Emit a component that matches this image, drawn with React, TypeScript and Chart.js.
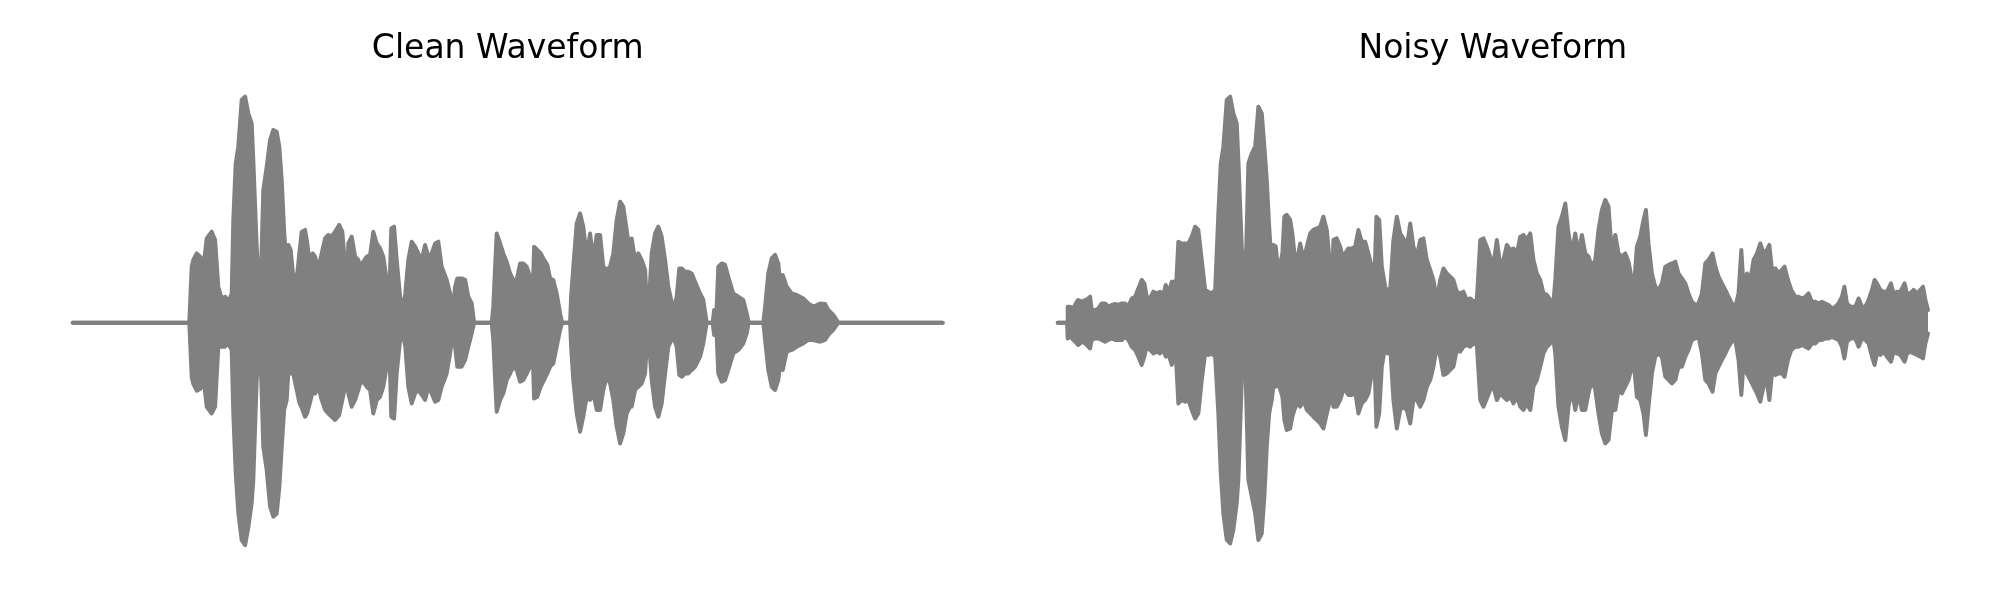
import React, { useEffect, useRef } from "react";
import { Chart, registerables } from "chart.js";

Chart.register(...registerables);

// ---------- Clean waveform envelope (time in s, amplitude normalised) ----------
const timeClean = [
  0, 0.583, 0.595, 0.603, 0.62, 0.637, 0.657, 0.67, 0.695, 0.712,
  0.728, 0.745, 0.762, 0.778, 0.795, 0.803, 0.815, 0.828, 0.845, 0.862,
  0.878, 0.895, 0.903, 0.92, 0.937, 0.953, 0.97, 0.987, 1.003, 1.02,
  1.033, 1.045, 1.057, 1.07, 1.078, 1.09, 1.103, 1.123, 1.133, 1.145,
  1.162, 1.173, 1.183, 1.2, 1.212, 1.228, 1.245, 1.262, 1.278, 1.295,
  1.312, 1.332, 1.348, 1.362, 1.37, 1.378, 1.395, 1.412, 1.428,
  1.437, 1.453, 1.47, 1.487, 1.503, 1.52, 1.537, 1.553, 1.57, 1.583,
  1.593, 1.607, 1.62, 1.637, 1.65, 1.663, 1.678, 1.695, 1.712, 1.728,
  1.745, 1.762, 1.778, 1.795, 1.812, 1.828, 1.845, 1.87, 1.887, 1.9,
  1.912, 1.923, 1.945, 1.962, 1.978, 1.995, 2.007, 2.095, 2.103, 2.112,
  2.12, 2.137, 2.153, 2.17, 2.187, 2.203, 2.22, 2.237, 2.253, 2.27,
  2.287, 2.3, 2.307, 2.323, 2.34, 2.357, 2.373, 2.387, 2.403, 2.42,
  2.437, 2.447, 2.487, 2.492, 2.503, 2.52, 2.537, 2.553, 2.57, 2.587,
  2.603, 2.62, 2.637, 2.653, 2.67, 2.687, 2.703, 2.72, 2.737, 2.753,
  2.77, 2.787, 2.795, 2.812, 2.828, 2.845, 2.862, 2.87, 2.878,
  2.895, 2.912, 2.928, 2.945, 2.962, 2.978, 3.003, 3.02, 3.033, 3.045,
  3.062, 3.078, 3.095, 3.112, 3.137, 3.153, 3.17, 3.2, 3.207, 3.217,
  3.228, 3.245, 3.262, 3.278, 3.303, 3.328, 3.353, 3.37, 3.38, 3.453,
  3.462, 3.478, 3.495, 3.512, 3.528, 3.54, 3.55, 3.57, 3.595, 3.62,
  3.653, 3.678, 3.703, 3.737, 3.762, 3.778, 3.803, 3.828, 4.35,
];

const upperClean = [
  0, 0, 0.224, 0.251, 0.277, 0.264, 0.244, 0.337, 0.364, 0.331,
  0.144, 0.097, 0.104, 0.084, 0.117, 0.411, 0.637, 0.704, 0.891, 0.904,
  0.837, 0.797, 0.651, 0.304, 0.064, 0.531, 0.624, 0.731, 0.771, 0.764,
  0.704, 0.571, 0.371, 0.211, 0.311, 0.291, 0.184, 0.197, 0.277, 0.364,
  0.371, 0.317, 0.251, 0.277, 0.264, 0.217, 0.277, 0.337, 0.351, 0.344,
  0.364, 0.391, 0.364, 0.224, 0.077, 0.317, 0.344, 0.264, 0.251,
  0.224, 0.244, 0.264, 0.271, 0.364, 0.317, 0.297, 0.264, 0.171, 0.104,
  0.377, 0.384, 0.251, 0.104, 0.051, 0.117, 0.251, 0.324, 0.304, 0.277,
  0.251, 0.311, 0.264, 0.277, 0.317, 0.324, 0.224, 0.171, 0.117, 0.051,
  0.144, 0.177, 0.177, 0.171, 0.104, 0.077, 0, 0, 0.064, 0.224,
  0.357, 0.317, 0.277, 0.244, 0.197, 0.171, 0.171, 0.237, 0.237, 0.224,
  0.184, 0.117, 0.304, 0.291, 0.277, 0.251, 0.231, 0.177, 0.171, 0.117,
  0.037, 0, 0, 0.104, 0.224, 0.397, 0.437, 0.384, 0.264, 0.357,
  0.251, 0.351, 0.351, 0.224, 0.211, 0.224, 0.277, 0.411, 0.484, 0.464,
  0.371, 0.277, 0.337, 0.251, 0.277, 0.251, 0.211, 0.091, 0.037,
  0.277, 0.357, 0.384, 0.344, 0.251, 0.144, 0.051, 0.104, 0.217, 0.217,
  0.204, 0.204, 0.197, 0.164, 0.117, 0.091, 0, 0, 0.051, 0,
  0.224, 0.237, 0.231, 0.184, 0.117, 0.104, 0.091, 0.037, 0, 0,
  0.064, 0.197, 0.257, 0.271, 0.237, 0.137, 0.191, 0.144, 0.117, 0.111,
  0.097, 0.077, 0.064, 0.077, 0.075, 0.051, 0.031, 0, 0,
];

const lowerClean = [
  0, 0, -0.216, -0.245, -0.272, -0.265, -0.243, -0.336, -0.363, -0.336,
  -0.096, -0.096, -0.096, -0.083, -0.109, -0.363, -0.6, -0.76, -0.87, -0.89,
  -0.82, -0.72, -0.629, -0.229, -0.069, -0.496, -0.589, -0.736, -0.776, -0.763,
  -0.66, -0.5, -0.35, -0.309, -0.203, -0.203, -0.206, -0.28, -0.32, -0.34,
  -0.376, -0.36, -0.33, -0.275, -0.283, -0.256, -0.309, -0.349, -0.363, -0.376,
  -0.389, -0.37, -0.31, -0.256, -0.069, -0.283, -0.336, -0.309, -0.269,
  -0.243, -0.236, -0.256, -0.269, -0.363, -0.309, -0.296, -0.256, -0.176, -0.096,
  -0.376, -0.383, -0.203, -0.069, -0.043, -0.096, -0.256, -0.323, -0.283, -0.269,
  -0.289, -0.309, -0.256, -0.283, -0.316, -0.309, -0.256, -0.203, -0.123, -0.043,
  -0.096, -0.176, -0.176, -0.149, -0.096, -0.043, 0, 0, -0.069, -0.229,
  -0.356, -0.309, -0.283, -0.229, -0.203, -0.176, -0.189, -0.236, -0.229, -0.203,
  -0.176, -0.123, -0.303, -0.296, -0.256, -0.229, -0.203, -0.176, -0.163, -0.096,
  -0.029, 0, 0, -0.096, -0.229, -0.363, -0.436, -0.376, -0.296, -0.309,
  -0.283, -0.349, -0.349, -0.269, -0.216, -0.243, -0.309, -0.416, -0.483, -0.443,
  -0.363, -0.336, -0.336, -0.269, -0.256, -0.243, -0.203, -0.096, -0.043,
  -0.229, -0.336, -0.376, -0.323, -0.203, -0.096, -0.056, -0.096, -0.209, -0.216,
  -0.203, -0.203, -0.189, -0.176, -0.136, -0.083, 0, 0, -0.049, 0,
  -0.203, -0.236, -0.229, -0.189, -0.123, -0.109, -0.083, -0.043, 0, 0,
  -0.069, -0.189, -0.256, -0.269, -0.229, -0.149, -0.189, -0.116, -0.109, -0.096,
  -0.083, -0.069, -0.069, -0.076, -0.069, -0.049, -0.029, 0, 0,
];

// ---------- Noisy waveform envelope ----------
const timeNoisy = [
  0, 0.047, 0.05, 0.062, 0.078, 0.095, 0.103, 0.12, 0.137, 0.153,
  0.162, 0.17, 0.187, 0.203, 0.22, 0.237, 0.253, 0.27, 0.287, 0.303,
  0.32, 0.337, 0.353, 0.37, 0.387, 0.403, 0.42, 0.433, 0.445, 0.462,
  0.478, 0.495, 0.512, 0.528, 0.54, 0.553, 0.57, 0.583, 0.59, 0.603,
  0.62, 0.637, 0.653, 0.67, 0.687, 0.703, 0.72, 0.737, 0.753, 0.77,
  0.787, 0.803, 0.815, 0.828, 0.845, 0.862, 0.878, 0.895, 0.903, 0.92,
  0.937, 0.953, 0.97, 0.987, 1.003, 1.02, 1.033, 1.045, 1.057, 1.07,
  1.078, 1.09, 1.103, 1.123, 1.133, 1.145, 1.162, 1.173, 1.183, 1.2,
  1.212, 1.228, 1.245, 1.262, 1.278, 1.295, 1.312, 1.328, 1.345, 1.362,
  1.37, 1.378, 1.395, 1.412, 1.428,
  1.437, 1.453, 1.47, 1.487, 1.503, 1.52, 1.537, 1.553, 1.57, 1.583,
  1.593, 1.607, 1.62, 1.637, 1.65, 1.663, 1.678, 1.695, 1.712, 1.728,
  1.745, 1.762, 1.778, 1.795, 1.812, 1.828, 1.845, 1.862, 1.878, 1.895,
  1.912, 1.928, 1.945, 1.962, 1.978, 1.995, 2.012, 2.028, 2.045, 2.062,
  2.078, 2.095, 2.112, 2.128, 2.145, 2.162, 2.178, 2.195, 2.212, 2.228,
  2.245, 2.262, 2.278, 2.295, 2.312, 2.328, 2.345, 2.362, 2.378, 2.395,
  2.412, 2.428, 2.445, 2.462, 2.478, 2.487, 2.503, 2.52, 2.537, 2.553,
  2.57, 2.587, 2.603, 2.62, 2.637, 2.653, 2.67, 2.687, 2.703, 2.72,
  2.737, 2.753, 2.77, 2.787, 2.803, 2.82, 2.837, 2.853, 2.87, 2.878,
  2.895, 2.912, 2.928, 2.94, 2.953, 2.97, 2.987, 3.003, 3.02, 3.037,
  3.053, 3.07, 3.087, 3.103, 3.12, 3.137, 3.153, 3.17, 3.187, 3.203,
  3.22, 3.237, 3.253, 3.273, 3.287, 3.303, 3.32, 3.337, 3.353, 3.37,
  3.387, 3.403, 3.417, 3.428, 3.445, 3.462, 3.478, 3.495, 3.512, 3.528,
  3.545, 3.557, 3.57, 3.587, 3.603, 3.62, 3.633, 3.65, 3.667, 3.687,
  3.703, 3.72, 3.737, 3.753, 3.77, 3.787, 3.803, 3.82, 3.837, 3.853,
  3.87, 3.887, 3.903, 3.92, 3.932, 3.945, 3.962, 3.987, 4.003, 4.02,
  4.037, 4.053, 4.07, 4.083, 4.095, 4.112, 4.128, 4.145, 4.165, 4.178,
  4.195, 4.212, 4.233, 4.245, 4.262, 4.278, 4.295, 4.312, 4.325, 4.337,
  4.35,
];

const upperNoisy = [
  0, 0, 0.064, 0.064, 0.057, 0.084, 0.091, 0.084, 0.091, 0.097,
  0.104, 0.051, 0.051, 0.057, 0.077, 0.077, 0.064, 0.071, 0.075, 0.071,
  0.077, 0.077, 0.064, 0.097, 0.104, 0.137, 0.171, 0.157, 0.104, 0.097,
  0.124, 0.117, 0.124, 0.111, 0.151, 0.117, 0.164, 0.164, 0.117, 0.324,
  0.317, 0.317, 0.317, 0.344, 0.384, 0.371, 0.251, 0.131, 0.124, 0.117,
  0.131, 0.437, 0.637, 0.704, 0.891, 0.904, 0.837, 0.797, 0.651, 0.304,
  0.131, 0.637, 0.677, 0.704, 0.864, 0.837, 0.704, 0.571, 0.384, 0.224,
  0.311, 0.304, 0.197, 0.277, 0.424, 0.431, 0.411, 0.357, 0.277, 0.264,
  0.317, 0.251, 0.304, 0.357, 0.371, 0.377, 0.384, 0.424, 0.371, 0.224,
  0.104, 0.331, 0.337, 0.304, 0.251,
  0.277, 0.297, 0.297, 0.304, 0.371, 0.324, 0.324, 0.277, 0.224, 0.171,
  0.424, 0.411, 0.224, 0.144, 0.117, 0.144, 0.331, 0.424, 0.357, 0.337,
  0.304, 0.397, 0.304, 0.264, 0.331, 0.337, 0.251, 0.211, 0.171, 0.091,
  0.171, 0.217, 0.197, 0.184, 0.171, 0.124, 0.117, 0.124, 0.091, 0.097,
  0.084, 0.091, 0.331, 0.337, 0.304, 0.264, 0.231, 0.331, 0.231, 0.251,
  0.311, 0.291, 0.297, 0.277, 0.344, 0.351, 0.331, 0.357, 0.251, 0.197,
  0.171, 0.117, 0.111, 0.091, 0.084, 0.171, 0.384, 0.424, 0.477, 0.357,
  0.277, 0.357, 0.277, 0.351, 0.277, 0.264, 0.224, 0.251, 0.371, 0.451,
  0.491, 0.464, 0.277, 0.351, 0.277, 0.264, 0.277, 0.244, 0.171, 0.117,
  0.304, 0.344, 0.411, 0.451, 0.317, 0.197, 0.144, 0.131, 0.157, 0.224,
  0.231, 0.237, 0.244, 0.197, 0.177, 0.157, 0.117, 0.084, 0.071, 0.077,
  0.117, 0.237, 0.251, 0.277, 0.224, 0.184, 0.157, 0.131, 0.104, 0.077,
  0.064, 0.117, 0.291, 0.144, 0.197, 0.171, 0.251, 0.277, 0.317, 0.277,
  0.291, 0.311, 0.211, 0.217, 0.197, 0.211, 0.224, 0.171, 0.131, 0.104,
  0.104, 0.097, 0.104, 0.117, 0.084, 0.084, 0.077, 0.084, 0.077, 0.071,
  0.057, 0.064, 0.077, 0.104, 0.144, 0.077, 0.064, 0.064, 0.097, 0.064,
  0.064, 0.091, 0.131, 0.171, 0.157, 0.131, 0.124, 0.124, 0.157, 0.117,
  0.124, 0.124, 0.157, 0.117, 0.117, 0.131, 0.117, 0.131, 0.144, 0.091,
  0.051,
];

const lowerNoisy = [
  0, 0, -0.063, -0.056, -0.069, -0.083, -0.089, -0.076, -0.083, -0.096,
  -0.103, -0.069, -0.063, -0.063, -0.069, -0.076, -0.069, -0.063, -0.069, -0.069,
  -0.069, -0.056, -0.069, -0.096, -0.109, -0.136, -0.169, -0.136, -0.096, -0.109,
  -0.123, -0.116, -0.123, -0.109, -0.136, -0.123, -0.169, -0.136, -0.123, -0.323,
  -0.309, -0.316, -0.309, -0.349, -0.383, -0.363, -0.229, -0.123, -0.129, -0.123,
  -0.136, -0.363, -0.6, -0.763, -0.869, -0.883, -0.829, -0.72, -0.629, -0.229,
  -0.136, -0.629, -0.696, -0.763, -0.869, -0.843, -0.696, -0.496, -0.363, -0.309,
  -0.256, -0.256, -0.243, -0.296, -0.389, -0.429, -0.423, -0.376, -0.349, -0.316,
  -0.336, -0.309, -0.349, -0.363, -0.376, -0.389, -0.403, -0.423, -0.363, -0.309,
  -0.163, -0.336, -0.336, -0.309, -0.269,
  -0.269, -0.289, -0.289, -0.276, -0.363, -0.323, -0.309, -0.283, -0.203, -0.136,
  -0.416, -0.363, -0.176, -0.096, -0.123, -0.109, -0.309, -0.423, -0.349, -0.336,
  -0.349, -0.403, -0.309, -0.309, -0.336, -0.309, -0.256, -0.229, -0.176, -0.096,
  -0.136, -0.209, -0.203, -0.189, -0.176, -0.109, -0.116, -0.096, -0.089, -0.096,
  -0.083, -0.089, -0.309, -0.336, -0.303, -0.269, -0.256, -0.309, -0.283, -0.296,
  -0.309, -0.296, -0.323, -0.296, -0.336, -0.349, -0.323, -0.349, -0.256, -0.229,
  -0.176, -0.123, -0.096, -0.083, -0.069, -0.123, -0.336, -0.416, -0.469, -0.336,
  -0.269, -0.349, -0.283, -0.349, -0.349, -0.283, -0.229, -0.269, -0.363, -0.443,
  -0.483, -0.469, -0.349, -0.349, -0.269, -0.283, -0.256, -0.229, -0.176, -0.149,
  -0.296, -0.309, -0.363, -0.449, -0.336, -0.203, -0.136, -0.123, -0.136, -0.216,
  -0.229, -0.243, -0.229, -0.176, -0.176, -0.136, -0.109, -0.069, -0.063, -0.056,
  -0.123, -0.229, -0.243, -0.276, -0.203, -0.176, -0.149, -0.123, -0.096, -0.076,
  -0.069, -0.149, -0.289, -0.163, -0.203, -0.229, -0.256, -0.283, -0.316, -0.256,
  -0.236, -0.309, -0.203, -0.209, -0.203, -0.203, -0.216, -0.149, -0.109, -0.096,
  -0.096, -0.089, -0.096, -0.103, -0.083, -0.083, -0.069, -0.069, -0.063, -0.063,
  -0.056, -0.063, -0.069, -0.096, -0.143, -0.076, -0.063, -0.063, -0.096, -0.063,
  -0.069, -0.083, -0.136, -0.169, -0.123, -0.129, -0.116, -0.136, -0.156, -0.116,
  -0.123, -0.129, -0.156, -0.123, -0.116, -0.123, -0.129, -0.136, -0.143, -0.083,
  -0.043,
];

const titles = ["Clean Waveform", "Noisy Waveform"];
const WAVE_COLOR = "#808080";

type WaveProps = {
  title: string;
  time: number[];
  upper: number[];
  lower: number[];
  padLeft: number;
  padRight: number;
  left: number;
};

function WaveChart({ title, time, upper, lower, padLeft, padRight, left }: WaveProps) {
  const ref = useRef<HTMLCanvasElement | null>(null);
  useEffect(() => {
    if (!ref.current) return;
    const up = time.map((t, i) => ({ x: t, y: upper[i] }));
    const lo = time.map((t, i) => ({ x: t, y: lower[i] }));
    const common = {
      borderColor: WAVE_COLOR,
      backgroundColor: WAVE_COLOR,
      borderWidth: 4,
      pointRadius: 0,
      tension: 0,
      borderCapStyle: "round" as const,
      borderJoinStyle: "round" as const,
      clip: false as const,
    };
    const chart = new Chart(ref.current, {
      type: "line",
      data: {
        datasets: [
          { ...common, label: "upper", data: up, fill: "+1" },
          { ...common, label: "lower", data: lo, fill: false },
        ],
      },
      options: {
        animation: false,
        responsive: false,
        devicePixelRatio: 1,
        layout: { padding: { left: padLeft, right: padRight, top: 0, bottom: 39.8 } },
        plugins: {
          legend: { display: false },
          tooltip: { enabled: false },
          title: {
            display: true,
            text: title,
            color: "#000000",
            font: { family: "'DejaVu Sans', sans-serif", size: 33, weight: "normal", lineHeight: 1.2 },
            padding: { top: 30, bottom: 15.6 },
          },
        },
        scales: {
          x: { type: "linear", min: 0, max: 4.35, display: false },
          y: { type: "linear", min: -0.95, max: 0.95, display: false },
        },
      },
    });
    return () => chart.destroy();
  }, [title, time, upper, lower, padLeft, padRight]);
  return (
    <canvas
      ref={ref}
      width={1000}
      height={600}
      style={{ position: "absolute", left, top: 0, width: 1000, height: 600, display: "block" }}
    />
  );
}

export default function App() {
  return (
    <div style={{ position: "absolute", left: 0, top: 0, width: 2000, height: 600, background: "#ffffff" }}>
      <WaveChart title={titles[0]} time={timeClean} upper={upperClean} lower={lowerClean} padLeft={72.7} padRight={57.3} left={0} />
      <WaveChart title={titles[1]} time={timeNoisy} upper={upperNoisy} lower={lowerNoisy} padLeft={57.7} padRight={72} left={1000} />
    </div>
  );
}
